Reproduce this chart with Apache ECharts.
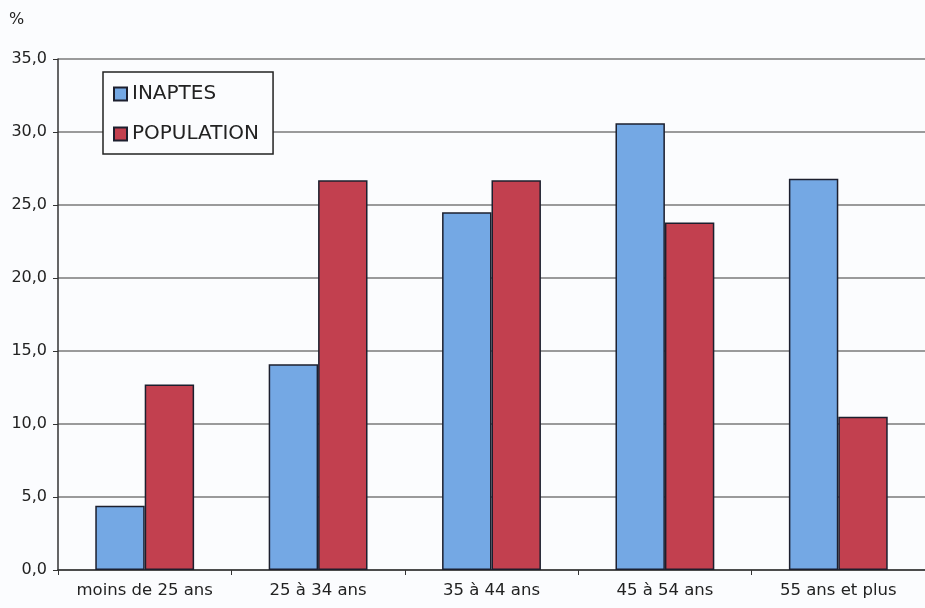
<!DOCTYPE html>
<html><head><meta charset="utf-8">
<script src="https://cdn.jsdelivr.net/npm/echarts@6/dist/echarts.min.js"></script>
<style>html,body{margin:0;padding:0;background:#fbfcfe;}#c{width:925px;height:608px;}</style>
</head><body><div id="c"></div>
<script>
const categories = ['moins de 25 ans','25 à 34 ans','35 à 44 ans','45 à 54 ans','55 ans et plus'];
const inaptes = [4.4, 14.1, 24.5, 30.6, 26.8];
const population = [12.7, 26.7, 26.7, 23.8, 10.5];
const yTicks = {min:0, max:35, interval:5};

const chart = echarts.init(document.getElementById('c'));
const font = 'DejaVu Sans, Verdana, sans-serif';
chart.setOption({
  backgroundColor:'#fbfcfe',
  animation:false,
  textStyle:{fontFamily:font},
  grid:{left:58, right:-6, top:59, bottom:38},
  graphic:[{type:'text', left:9, top:12, style:{text:'%', font:'16px '+font, fill:'#222'}}],
  legend:{
    orient:'vertical', left:103, top:72,
    padding:[12,14,10,10], itemGap:20,
    itemWidth:13, itemHeight:13,
    borderColor:'#222', borderWidth:1.5,
    backgroundColor:'#fbfcfe',
    textStyle:{fontSize:20, color:'#222', fontFamily:font},
    data:[{name:'INAPTES', icon:'rect'},{name:'POPULATION', icon:'rect'}]
  },
  xAxis:{
    type:'category', data:categories,
    axisLine:{lineStyle:{color:'#333', width:1.5}},
    axisTick:{show:true, length:5, lineStyle:{color:'#333'}},
    axisLabel:{fontSize:16.5, color:'#222', margin:12, interval:0}
  },
  yAxis:{
    type:'value', min:yTicks.min, max:yTicks.max, interval:yTicks.interval,
    axisLine:{show:true, lineStyle:{color:'#333', width:1.5}},
    axisTick:{show:true, length:5, lineStyle:{color:'#333'}},
    axisLabel:{fontSize:16, color:'#222', margin:11, formatter:v=>v.toFixed(1).replace('.',',')},
    splitLine:{lineStyle:{color:'#7a7a7a', width:1.5}}
  },
  series:[
    {name:'INAPTES', type:'bar', data:inaptes, barGap:'0%', barCategoryGap:'43%',
     itemStyle:{color:'#74a8e4', borderColor:'#1c1f2e', borderWidth:1.5}},
    {name:'POPULATION', type:'bar', data:population,
     itemStyle:{color:'#c2404f', borderColor:'#1c1f2e', borderWidth:1.5}}
  ]
});
</script></body></html>
